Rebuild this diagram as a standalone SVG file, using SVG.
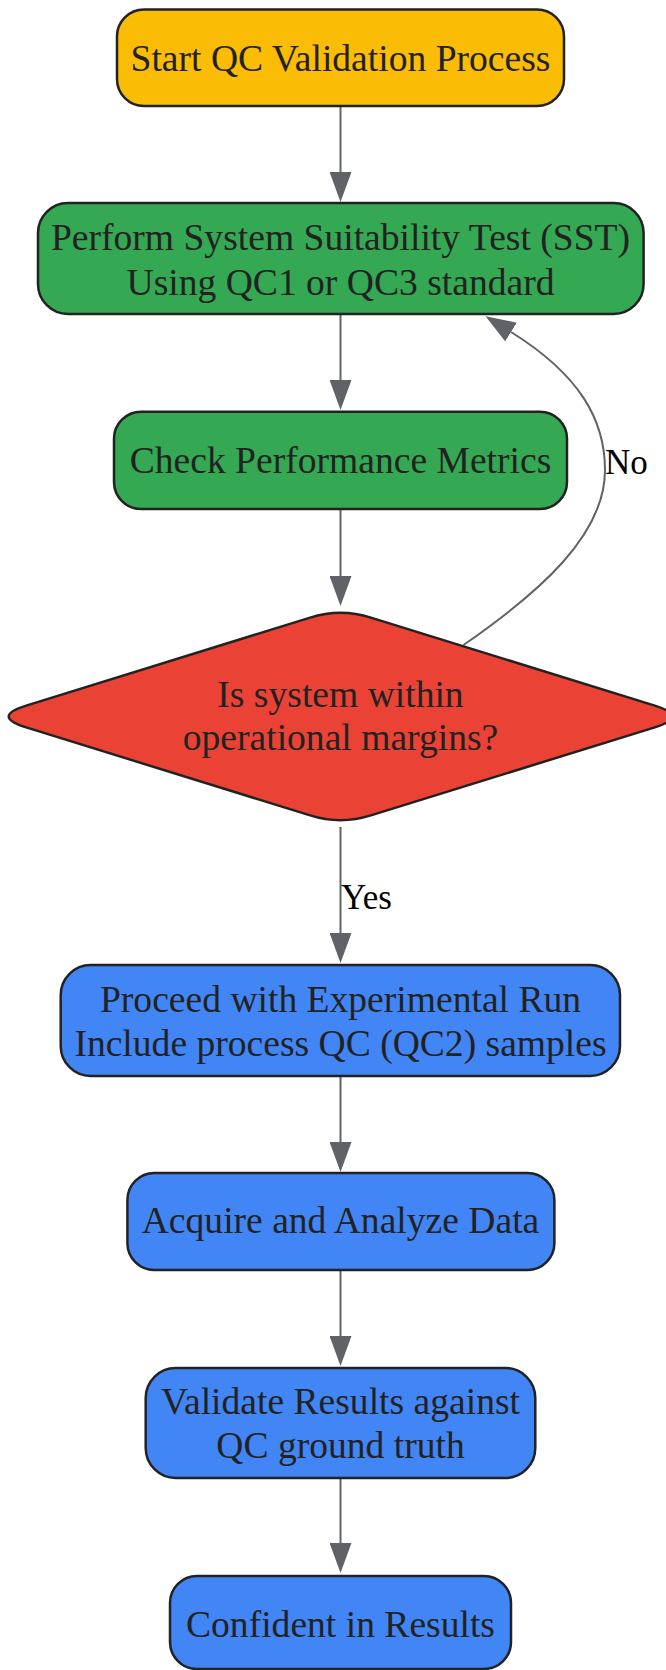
<svg xmlns="http://www.w3.org/2000/svg" width="666" height="1670" viewBox="0 0 666 1670">
<style>
.node rect,.node path{stroke:#222;stroke-width:2.5}
.t{font-family:"Liberation Serif","Times New Roman",serif;font-size:37.6px;fill:#222;text-anchor:middle}
.lbl{font-family:"Liberation Serif","Times New Roman",serif;font-size:35px;fill:#000}
.edge{fill:none;stroke:#5f6368;stroke-width:2}
.y{fill:#FBBC05}.g{fill:#34A853}.r{fill:#EA4335}.b{fill:#4285F4}
</style>
<defs>
<marker id="ah" viewBox="0 0 30 22" refX="0" refY="11" markerWidth="30" markerHeight="22" markerUnits="userSpaceOnUse" orient="auto">
<path d="M0,0 L30,11 L0,22 z" fill="#5f6368"/>
</marker>
</defs>
<rect width="666" height="1670" fill="#fff"/>
<g id="connectors">
<line class="edge" x1="340.5" y1="106" x2="340.5" y2="172" marker-end="url(#ah)"/>
<line class="edge" x1="340.5" y1="314" x2="340.5" y2="380" marker-end="url(#ah)"/>
<line class="edge" x1="340.5" y1="509" x2="340.5" y2="576" marker-end="url(#ah)"/>
<path class="edge" d="M463.5,645 C540,592 605,535 605,470 C605,420 580,375 511,332" marker-end="url(#ah)"/>
<text class="lbl" x="605" y="474">No</text>
<line class="edge" x1="340.5" y1="827" x2="340.5" y2="933" marker-end="url(#ah)"/>
<text class="lbl" x="341" y="909">Yes</text>
<line class="edge" x1="340.5" y1="1076" x2="340.5" y2="1142" marker-end="url(#ah)"/>
<line class="edge" x1="340.5" y1="1270" x2="340.5" y2="1336" marker-end="url(#ah)"/>
<line class="edge" x1="340.5" y1="1478" x2="340.5" y2="1543" marker-end="url(#ah)"/>
</g>
<g id="start" class="node">
<rect class="y" x="117" y="9.5" width="447" height="96.5" rx="27"/>
<text class="t" x="340.5" y="70.5">Start QC Validation Process</text>
</g>
<g id="sst" class="node">
<rect class="g" x="38" y="203" width="605.6" height="111" rx="30"/>
<text class="t" x="340.5" y="250">Perform System Suitability Test (SST)</text>
<text class="t" x="340.5" y="295">Using QC1 or QC3 standard</text>
</g>
<g id="check" class="node">
<rect class="g" x="114" y="411.7" width="453" height="97.3" rx="27"/>
<text class="t" x="340.5" y="473">Check Performance Metrics</text>
</g>
<g id="decision" class="node">
<path class="r" d="M310.1,617.6 Q340.5,608 370.9,617.6 L655.6,705.9 Q689,716.5 655.6,727.1 L370.9,815.4 Q340.5,825 310.1,815.4 L25.4,727.1 Q-8,716.5 25.4,705.9 Z"/>
<text class="t" x="340.5" y="706.7">Is system within</text>
<text class="t" x="340.5" y="750">operational margins?</text>
</g>
<g id="proceed" class="node">
<rect class="b" x="60.7" y="965" width="559.3" height="111" rx="30"/>
<text class="t" x="340.5" y="1011.7">Proceed with Experimental Run</text>
<text class="t" x="340.5" y="1056">Include process QC (QC2) samples</text>
</g>
<g id="acquire" class="node">
<rect class="b" x="127.4" y="1173" width="427" height="97" rx="27"/>
<text class="t" x="340.5" y="1233">Acquire and Analyze Data</text>
</g>
<g id="validate" class="node">
<rect class="b" x="145.7" y="1368" width="389.6" height="110" rx="30"/>
<text class="t" x="340.5" y="1414">Validate Results against</text>
<text class="t" x="340.5" y="1458">QC ground truth</text>
</g>
<g id="confident" class="node">
<rect class="b" x="170" y="1576" width="341" height="93" rx="27"/>
<text class="t" x="340.5" y="1636.7">Confident in Results</text>
</g>
</svg>
